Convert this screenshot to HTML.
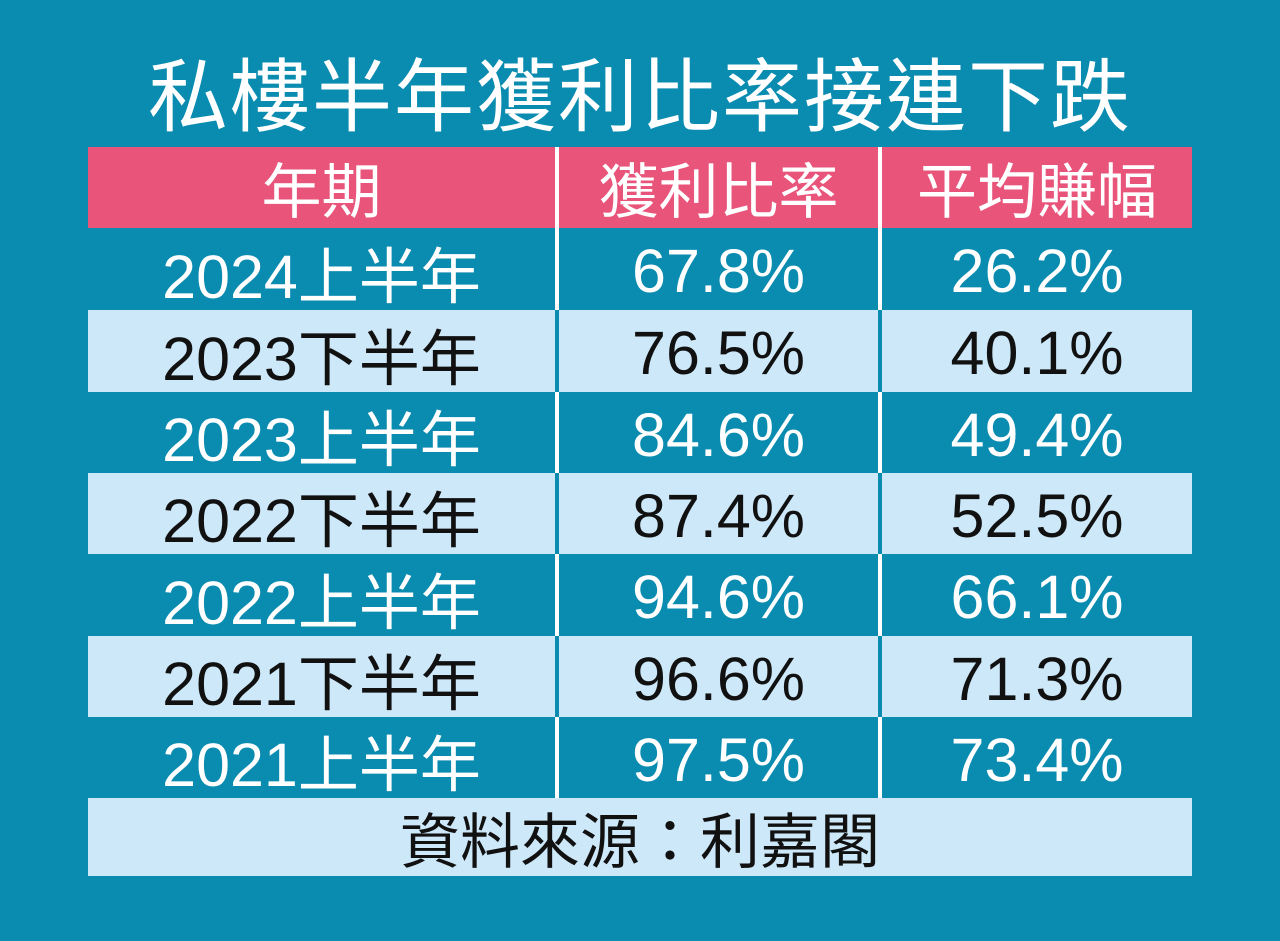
<!DOCTYPE html>
<html><head><meta charset="utf-8"><style>
body{margin:0;width:1280px;height:941px;background:#0a8bb0;position:relative;overflow:hidden;font-family:"Liberation Sans","Noto Sans CJK TC",sans-serif}
.t{position:absolute;left:0;width:1280px;top:50px;text-align:center;color:#fff;font-size:80px;line-height:96px;letter-spacing:2px}
.r{position:absolute;left:88px;width:1104px;display:flex}
.c{display:flex;align-items:center;justify-content:center;font-size:61px;height:100%;padding-top:4px;box-sizing:border-box}
.c1{width:467px}.c2{width:319px;margin-left:4px}.c3{width:310px;margin-left:4px}
.h{background:#e8547a;color:#fff}
.h .c{font-size:60px;padding-top:0}
.d{color:#fff}
.d .c2,.d .c3{box-shadow:-4px 0 0 #fff}
.l .c{background:#cde8f8;color:#111}
</style></head><body>
<div class="t">私樓半年獲利比率接連下跌</div>
<div class="r h" style="top:147px;height:81px"><div class="c c1" style="background:#e8547a">年期</div><div class="c c2" style="background:#e8547a;box-shadow:-4px 0 0 #fff">獲利比率</div><div class="c c3" style="background:#e8547a;box-shadow:-4px 0 0 #fff">平均賺幅</div></div>
<div class="r d" style="top:228px;height:82px"><div class="c c1">2024上半年</div><div class="c c2">67.8%</div><div class="c c3">26.2%</div></div>
<div class="r l" style="top:310px;height:82px"><div class="c c1">2023下半年</div><div class="c c2">76.5%</div><div class="c c3">40.1%</div></div>
<div class="r d" style="top:392px;height:81px"><div class="c c1">2023上半年</div><div class="c c2">84.6%</div><div class="c c3">49.4%</div></div>
<div class="r l" style="top:473px;height:81px"><div class="c c1">2022下半年</div><div class="c c2">87.4%</div><div class="c c3">52.5%</div></div>
<div class="r d" style="top:554px;height:82px"><div class="c c1">2022上半年</div><div class="c c2">94.6%</div><div class="c c3">66.1%</div></div>
<div class="r l" style="top:636px;height:81px"><div class="c c1">2021下半年</div><div class="c c2">96.6%</div><div class="c c3">71.3%</div></div>
<div class="r d" style="top:717px;height:81px"><div class="c c1">2021上半年</div><div class="c c2">97.5%</div><div class="c c3">73.4%</div></div>
<div class="r" style="top:798px;height:78px;background:#cde8f8;justify-content:center;align-items:center;font-size:60px;color:#111">資料來源：利嘉閣</div>
</body></html>
